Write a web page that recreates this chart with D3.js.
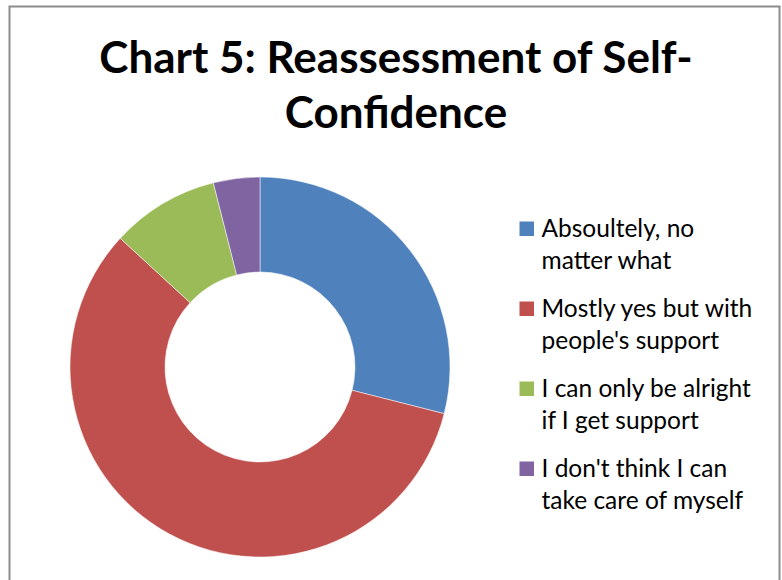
<!DOCTYPE html>
<html>
<head>
<meta charset="utf-8">
<script src="https://cdn.jsdelivr.net/npm/d3@7"></script>
<style>
  body { margin: 0; background: #fff; }
  text { font-family: Lato, "Open Sans", sans-serif; fill: #000; }
</style>
</head>
<body>
<svg id="chart" width="782" height="580"></svg>
<script>
// data
var categories = ["Absoultely, no matter what", "Mostly yes but with people's support",
                  "I can only be alright if I get support", "I don't think I can take care of myself"];
var legendLines = [["Absoultely, no", "matter what"], ["Mostly yes but with", "people's support"],
                   ["I can only be alright", "if I get support"], ["I don't think I can", "take care of myself"]];
var counts = [22, 44, 7, 3];
var colors = ["#4F81BD", "#C0504D", "#9BBB59", "#8064A2"];
var titleLines = ["Chart 5: Reassessment of Self-", "Confidence"];

var svg = d3.select("#chart"),
    width = +svg.attr("width"),
    height = +svg.attr("height");

// chart frame
svg.append("rect")
  .attr("x", 9.5).attr("y", 6.5)
  .attr("width", 770).attr("height", 590)
  .attr("fill", "#fff")
  .attr("stroke", "#8c8c8c")
  .attr("stroke-width", 2);

// title
svg.append("g").selectAll("text")
  .data(titleLines)
  .enter().append("text")
  .attr("x", 396)
  .attr("y", function(d, i) { return 73 + i * 55; })
  .attr("text-anchor", "middle")
  .style("font-weight", "bold")
  .style("font-size", "44px")
  .text(function(d) { return d; });

// donut
var cx = 260, cy = 367, outerR = 190, innerR = 95;
var color = d3.scaleOrdinal().domain(categories).range(colors);
var pie = d3.pie().sort(null).value(function(d) { return d.value; });
var arc = d3.arc().innerRadius(innerR).outerRadius(outerR);

var slices = categories.map(function(c, i) { return {name: c, value: counts[i]}; });

svg.append("g")
  .attr("transform", "translate(" + cx + "," + cy + ")")
  .selectAll("path")
  .data(pie(slices))
  .enter().append("path")
  .attr("d", arc)
  .attr("fill", function(d) { return color(d.data.name); })
  .attr("stroke", "#fff")
  .attr("stroke-width", 0.5);

// legend
var legend = svg.append("g").attr("transform", "translate(519.5,221.5)")
  .selectAll("g")
  .data(categories)
  .enter().append("g")
  .attr("transform", function(d, i) { return "translate(0," + (i * 80) + ")"; });

legend.append("rect")
  .attr("width", 14.5).attr("height", 14.5)
  .attr("fill", function(d) { return color(d); });

legend.append("text")
  .attr("x", 22)
  .style("font-size", "24.5px")
  .selectAll("tspan")
  .data(function(d, i) { return legendLines[i]; })
  .enter().append("tspan")
  .attr("x", 22)
  .attr("y", function(d, i) { return 15 + i * 32; })
  .text(function(d) { return d; });
</script>
</body>
</html>
